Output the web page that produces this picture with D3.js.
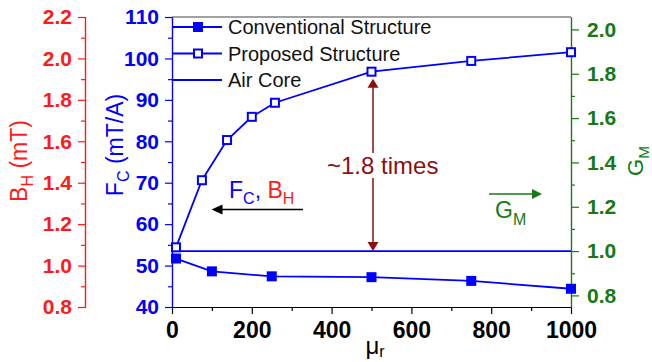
<!DOCTYPE html>
<html>
<head>
<meta charset="utf-8">
<script src="https://cdn.jsdelivr.net/npm/d3@7"></script>
<style>
  body { margin: 0; background: #fff; }
  svg { font-family: "Liberation Sans", Arial, sans-serif; }
</style>
</head>
<body>
<svg width="652" height="362"></svg>
<script>
// values
const muConv = [10, 100, 250, 500, 750, 1000];
const fcConv = [51.7, 48.6, 47.4, 47.2, 46.3, 44.4];
const muProp = [10, 75, 138, 200, 258, 500, 750, 1000];
const fcProp = [54.4, 70.6, 80.3, 85.9, 89.3, 96.8, 99.4, 101.5];
const muAir = [10, 1000];
const fcAir = [53.5, 53.5];
const legendNames = ['Conventional Structure', 'Proposed Structure', 'Air Core'];
const xTicks = [0, 200, 400, 600, 800, 1000];
const fcTicks = [40, 50, 60, 70, 80, 90, 100, 110];
const bhTicks = [0.8, 1.0, 1.2, 1.4, 1.6, 1.8, 2.0, 2.2];
const gmTicks = [0.8, 1.0, 1.2, 1.4, 1.6, 1.8, 2.0];

const BLUE = '#0000ff', RED = '#ff1a1a', GREEN = '#157a15', DARKRED = '#8b1010';
const FONT = '"Liberation Sans", Arial, sans-serif';

let svg = d3.select('svg');
let pLeft = 172, pRight = 571, pTop = 17, pBottom = 307;

let x = d3.scaleLinear().domain([0, 1000]).range([pLeft, pRight]);
let yFc = d3.scaleLinear().domain([40, 110]).range([pBottom, pTop]);
let yBh = d3.scaleLinear().domain([0.8, 2.2]).range([pBottom, pTop]);
let yGm = d3.scaleLinear().domain([40 / 53.5, 110 / 53.5]).range([pBottom, pTop]);

// top frame
svg.append('line').attr('x1', pLeft).attr('x2', pRight).attr('y1', pTop).attr('y2', pTop)
    .attr('stroke', '#444').attr('stroke-width', 1.2);

function styleAxis(g, color, size) {
    g.selectAll('g').attr('font-family', null).attr('font-size', null);
    g.selectAll('path').attr('stroke', color).attr('stroke-width', 1.2);
    g.selectAll('line').attr('stroke', color).attr('stroke-width', 1.2);
    g.selectAll('text').attr('fill', color)
        .style('font-family', FONT).style('font-weight', '700').style('font-size', size + 'px');
}

// x axis
let gx = svg.append('g').attr('transform', `translate(0,${pBottom})`);
gx.append('g').call(d3.axisBottom(x).tickValues(d3.range(100, 1000, 200)).tickSize(4).tickSizeOuter(0).tickFormat(''));
gx.append('g').call(d3.axisBottom(x).tickValues(xTicks).tickSize(7).tickSizeOuter(0).tickPadding(8).tickFormat(d3.format('d')));
styleAxis(gx, '#000', 23);

// F_C axis (blue)
let gf = svg.append('g').attr('transform', `translate(${pLeft},0)`);
gf.append('g').call(d3.axisLeft(yFc).tickValues(d3.range(45, 110, 10)).tickSize(4).tickSizeOuter(0).tickFormat(''));
gf.append('g').call(d3.axisLeft(yFc).tickValues(fcTicks).tickSize(7).tickSizeOuter(0).tickPadding(6).tickFormat(d3.format('d')));
styleAxis(gf, BLUE, 21);

// B_H axis (red)
let gb = svg.append('g').attr('transform', 'translate(85,0)');
gb.append('g').call(d3.axisLeft(yBh).tickValues(d3.range(0.9, 2.2, 0.2)).tickSize(4).tickSizeOuter(0).tickFormat(''));
gb.append('g').call(d3.axisLeft(yBh).tickValues(bhTicks).tickSize(7).tickSizeOuter(7).tickPadding(6).tickFormat(d3.format('.1f')));
styleAxis(gb, RED, 21);

// G_M axis (green)
let gg = svg.append('g').attr('transform', `translate(${pRight},0)`);
gg.append('g').call(d3.axisRight(yGm).tickValues(d3.range(0.9, 2.0, 0.2)).tickSize(4).tickSizeOuter(0).tickFormat(''));
gg.append('g').call(d3.axisRight(yGm).tickValues(gmTicks).tickSize(8).tickSizeOuter(0).tickPadding(8).tickFormat(d3.format('.1f')));
styleAxis(gg, GREEN, 21);

// axis titles
function subTitle(tx, ty, main, sub, rest, color, size) {
    let t = svg.append('text').attr('transform', `translate(${tx},${ty}) rotate(-90)`)
        .attr('text-anchor', 'middle').attr('fill', color).style('font-size', size + 'px');
    t.append('tspan').text(main);
    t.append('tspan').attr('dy', 6).style('font-size', (size * 0.7) + 'px').text(sub);
    if (rest) t.append('tspan').attr('dy', -6).text(rest);
}
subTitle(27, 161, 'B', 'H', ' (mT)', RED, 23);
subTitle(123, 145, 'F', 'C', ' (mT/A)', BLUE, 23);
subTitle(643, 161, 'G', 'M', null, GREEN, 22);

let xt = svg.append('text').attr('x', 375).attr('y', 354).attr('text-anchor', 'middle')
    .style('font-size', '24px').attr('fill', '#000');
xt.append('tspan').text('\u03bc');
xt.append('tspan').attr('dy', 3).style('font-size', '16px').text('r');

// series
let line = d3.line().x(d => x(d[0])).y(d => yFc(d[1]));
let air = muAir.map((m, i) => [m, fcAir[i]]);
let conv = muConv.map((m, i) => [m, fcConv[i]]);
let prop = muProp.map((m, i) => [m, fcProp[i]]);

[air, conv, prop].forEach(d => {
    svg.append('path').datum(d).attr('d', line).attr('fill', 'none')
        .attr('stroke', BLUE).attr('stroke-width', 1.8);
});

svg.selectAll('.conv').data(conv).enter().append('rect')
    .attr('x', d => x(d[0]) - 5).attr('y', d => yFc(d[1]) - 5)
    .attr('width', 10).attr('height', 10).attr('fill', BLUE);

svg.selectAll('.prop').data(prop).enter().append('rect')
    .attr('x', d => x(d[0]) - 4).attr('y', d => yFc(d[1]) - 4)
    .attr('width', 8).attr('height', 8).attr('fill', '#fff')
    .attr('stroke', BLUE).attr('stroke-width', 2);

// legend
let legY = [27, 53.5, 80];
legendNames.forEach((name, i) => {
    svg.append('line').attr('x1', pLeft).attr('x2', 222).attr('y1', legY[i]).attr('y2', legY[i])
        .attr('stroke', BLUE).attr('stroke-width', 1.8);
    if (i == 0) {
        svg.append('rect').attr('x', 193).attr('y', legY[i] - 5).attr('width', 10).attr('height', 10).attr('fill', BLUE);
    } else if (i == 1) {
        svg.append('rect').attr('x', 194).attr('y', legY[i] - 4).attr('width', 8).attr('height', 8)
            .attr('fill', '#fff').attr('stroke', BLUE).attr('stroke-width', 2);
    }
    svg.append('text').attr('x', 228).attr('y', legY[i] + 7).style('font-size', '20px')
        .attr('fill', '#111').text(name);
});

// arrow heads
function head(xt, yt, dir, len, w, color) {
    let pts;
    if (dir == 'up') pts = [[xt, yt], [xt - w / 2, yt + len], [xt + w / 2, yt + len]];
    if (dir == 'down') pts = [[xt, yt], [xt - w / 2, yt - len], [xt + w / 2, yt - len]];
    if (dir == 'left') pts = [[xt, yt], [xt + len, yt - w / 2], [xt + len, yt + w / 2]];
    if (dir == 'right') pts = [[xt, yt], [xt - len, yt - w / 2], [xt - len, yt + w / 2]];
    svg.append('polygon').attr('points', pts.map(p => p.join(',')).join(' ')).attr('fill', color);
}

// ~1.8 times arrow
let ax = x(500) + 1.5;
let yTop = yFc(fcProp[5]) + 7, yBot = yFc(fcAir[0]);
svg.append('line').attr('x1', ax).attr('x2', ax).attr('y1', yTop + 5).attr('y2', yBot - 5)
    .attr('stroke', DARKRED).attr('stroke-width', 1.5);
head(ax, yTop, 'up', 9, 11, DARKRED);
head(ax, yBot, 'down', 9, 11, DARKRED);
svg.append('rect').attr('x', 326).attr('y', 153).attr('width', 121).attr('height', 25).attr('fill', '#fff');
svg.append('text').attr('x', 327).attr('y', 174).style('font-size', '24px')
    .attr('fill', DARKRED).text('~1.8 times');

// F_C, B_H label with arrow
let fl = svg.append('text').attr('x', 229).attr('y', 198).style('font-size', '23px');
fl.append('tspan').attr('fill', BLUE).text('F');
fl.append('tspan').attr('fill', BLUE).attr('dy', 6).style('font-size', '16px').text('C');
fl.append('tspan').attr('fill', BLUE).attr('dy', -6).text(', ');
fl.append('tspan').attr('fill', RED).text('B');
fl.append('tspan').attr('fill', RED).attr('dy', 6).style('font-size', '16px').text('H');
svg.append('line').attr('x1', 303).attr('x2', 220).attr('y1', 209.5).attr('y2', 209.5)
    .attr('stroke', '#000').attr('stroke-width', 1.5);
head(211.5, 209.5, 'left', 11, 10, '#000');

// G_M label with arrow
let gl = svg.append('text').attr('x', 495).attr('y', 218).style('font-size', '23px').attr('fill', GREEN);
gl.append('tspan').text('G');
gl.append('tspan').attr('dy', 7).style('font-size', '16px').text('M');
svg.append('line').attr('x1', 489).attr('x2', 533).attr('y1', 194).attr('y2', 194)
    .attr('stroke', GREEN).attr('stroke-width', 1.5);
head(542, 194, 'right', 10, 10, GREEN);
</script>
</body>
</html>
